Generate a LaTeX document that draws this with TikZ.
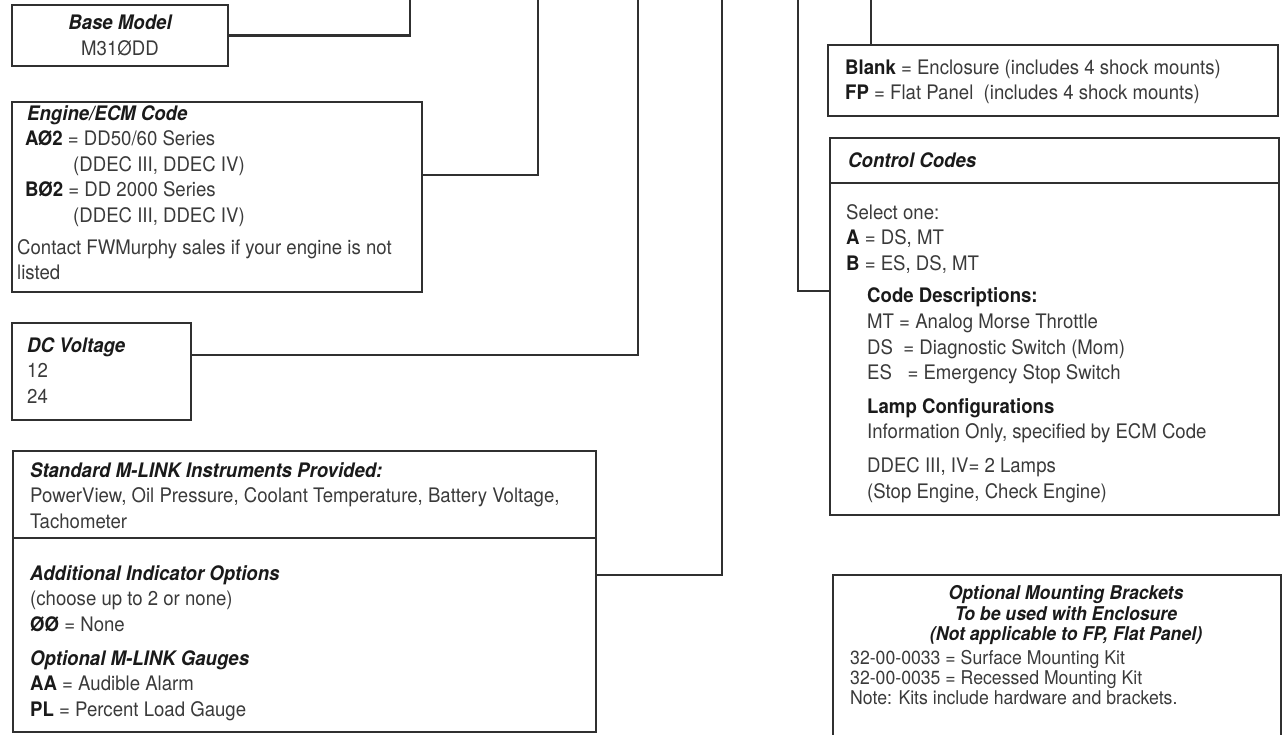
\documentclass[tikz,border=0pt]{standalone}
\usepackage{fontspec}
\setmainfont{TeX Gyre Heros}[FakeStretch=0.93]
\usetikzlibrary{positioning, calc}
\definecolor{linegray}{HTML}{303030}
\definecolor{ink}{HTML}{3A3A3A}
\definecolor{headink}{HTML}{1A1A1A}
\newcommand{\hd}[1]{{\color{headink}\bfseries\itshape #1}}
\newcommand{\cd}[1]{{\color{headink}\bfseries #1}}

\begin{document}
\begin{tikzpicture}[x=1pt, y=-1pt,
		frame/.style={draw=linegray, line width=1.9pt, inner sep=0pt, outer sep=0pt, anchor=north west},
		link/.style={draw=linegray, line width=2.3pt},
		txt/.style={ink, inner sep=0pt, anchor=north west, align=left, font=\fontsize{20}{25.6}\selectfont},
		smalltxt/.style={txt, font=\fontsize{19}{20}\selectfont}]
				\useasboundingbox (0,0) rectangle (1283,734);
				\node[frame, minimum width=216pt, minimum height=61pt] (base) at (12,5) {};
				\node[frame, minimum width=410pt, minimum height=190pt] (engine) at (12,102) {};
				\node[frame, minimum width=179pt, minimum height=97pt] (dcvolt) at (12,323) {};
				\node[frame, minimum width=583pt, minimum height=281pt] (instr) at (13,451) {};
				\node[frame, minimum width=450pt, minimum height=71pt] (encl) at (828,45) {};
				\node[frame, minimum width=449pt, minimum height=377pt] (ctrl) at (830,138) {};
				\node[frame, minimum width=448pt, minimum height=200pt] (mount) at (833,575) {};
				\draw[link, line width=1.9pt] (instr.west |- 0,538) -- (instr.east |- 0,538);
				\draw[link, line width=1.9pt] (ctrl.west |- 0,183) -- (ctrl.east |- 0,183);

				\coordinate (basetop) at (410,0);
				\coordinate (enginetop) at (538,0);
				\coordinate (dctop) at (638,0);
				\coordinate (instrtop) at (722,0);
				\coordinate (ctrltop) at (798,0);
				\coordinate (encltop) at (871,0);
				\draw[link] (base.east) -| (basetop);
				\draw[link] ([yshift=-73pt]engine.north east) -| (enginetop);
				\draw[link] ([yshift=-32pt]dcvolt.north east) -| (dctop);
				\draw[link] ([yshift=-124pt]instr.north east) -| (instrtop);
				\draw[link] (ctrltop) |- ([yshift=-153pt]ctrl.north west);
				\draw[link] (encltop) -- (encltop |- encl.north);

				\node[txt, anchor=center, align=center] (basetxt) at (base.center) {\hd{Base Model}\\M31ØDD};
				\node[txt] (enginetxt) at (17,102) {\strut\hspace*{10pt}\hd{Engine/ECM Code}\\
					\hspace*{8pt}\cd{AØ2} = DD50/60 Series\\
					\hspace*{56pt}(DDEC III, DDEC IV)\\
					\hspace*{8pt}\cd{BØ2} = DD 2000 Series\\
					\hspace*{56pt}(DDEC III, DDEC IV)\\[6pt]
					Contact FWMurphy sales if your engine is not\\
					listed};
				\node[txt] (dcvolttxt) at (27,334) {\strut\hd{DC Voltage}\\12\\24};
				\node[txt] (instrtxt) at (30,459) {\strut\hd{Standard M-LINK Instruments Provided:}\\
					PowerView, Oil Pressure, Coolant Temperature, Battery Voltage,\\
					Tachometer\\[26.4pt]
					\hd{Additional Indicator Options}\\
					(choose up to 2 or none)\\
					\cd{ØØ} = None\\[8pt]
					\hd{Optional M-LINK Gauges}\\
					\cd{AA} = Audible Alarm\\
					\cd{PL} = Percent Load Gauge};
				\node[txt] (encltxt) at (845,56) {\strut\cd{Blank} = Enclosure (includes 4 shock mounts)\\
					\cd{FP} = Flat Panel\ \ (includes 4 shock mounts)};
				\node[txt] (ctrlhead) at (848,149) {\strut\hd{Control Codes}};
				\node[txt] (ctrltxt) at (846,201) {\strut Select one:\\
					\cd{A} = DS, MT\\
					\cd{B} = ES, DS, MT\\[7pt]
					\hspace*{21pt}\cd{Code Descriptions:}\\
					\hspace*{21pt}MT = Analog Morse Throttle\\
					\hspace*{21pt}DS\ \ = Diagnostic Switch (Mom)\\
					\hspace*{21pt}ES\ \ \ = Emergency Stop Switch\\[8pt]
					\hspace*{21pt}\cd{Lamp Configurations}\\
					\hspace*{21pt}Information Only, specified by ECM Code\\[8pt]
					\hspace*{21pt}DDEC III, IV= 2 Lamps\\
					\hspace*{21pt}(Stop Engine, Check Engine)};
				\node[smalltxt, anchor=north, align=center] (mounthead) at (1066,585) {\strut\hd{Optional Mounting Brackets}\\
					\hd{To be used with Enclosure}\\
					\hd{(Not applicable to FP, Flat Panel)}};
				\node[smalltxt] (mounttxt) at (850,650) {\strut 32-00-0033 = Surface Mounting Kit\\
					32-00-0035 = Recessed Mounting Kit\\
					Note: Kits include hardware and brackets.};
\end{tikzpicture}
\end{document}
